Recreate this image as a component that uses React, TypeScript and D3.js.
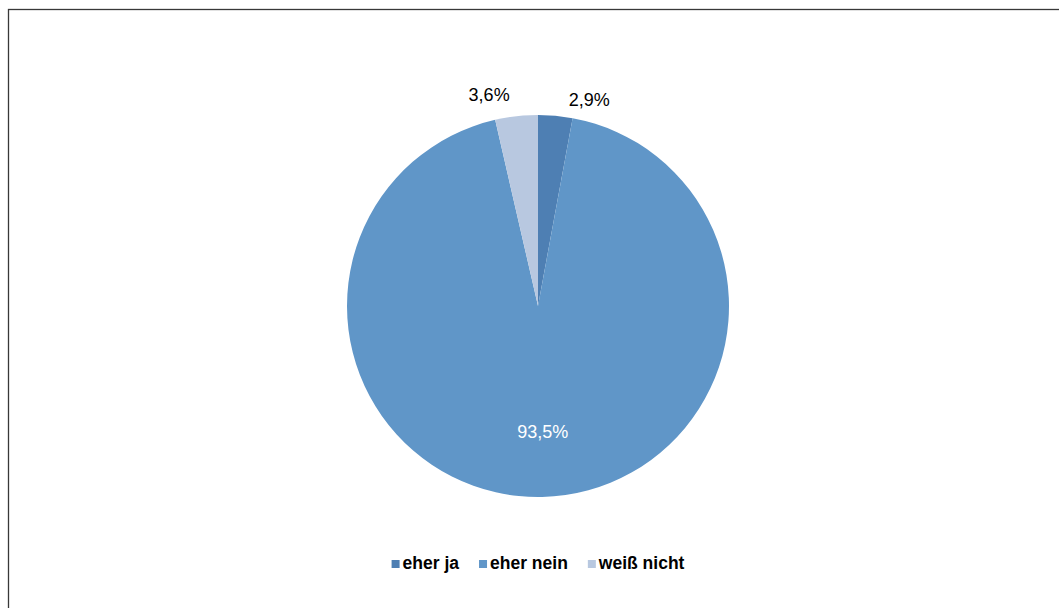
import React, { useEffect, useRef } from "react";
import * as d3 from "d3";

const categories = ["eher ja", "eher nein", "weiß nicht"];
const values = [2.9, 93.5, 3.6];
const labels = ["2,9%", "93,5%", "3,6%"];
const colors = ["#4E7FB3", "#6096C8", "#B8C8E0"];

const W = 1059;
const H = 608;
const CX = 538;
const CY = 306;
const R = 191;

export default function App() {
  const legendRef = useRef<SVGGElement | null>(null);

  const pie = d3.pie<number>().sort(null).value((d) => d);
  const arcs = pie(values);
  const arc = d3.arc<d3.PieArcDatum<number>>().innerRadius(0).outerRadius(R);
  const innerLabelArc = d3.arc<d3.PieArcDatum<number>>().innerRadius(R * 0.66).outerRadius(R * 0.66);
  const outerArc = d3.arc<d3.PieArcDatum<number>>().innerRadius(R + 16).outerRadius(R + 16);

  useEffect(() => {
    const g = d3.select(legendRef.current);
    g.selectAll("*").remove();
    const items = g
      .selectAll("g.item")
      .data(categories)
      .join("g")
      .attr("class", "item");
    items
      .append("rect")
      .attr("width", 8)
      .attr("height", 8)
      .attr("y", -9)
      .attr("fill", (_d, i) => colors[i]);
    items
      .append("text")
      .attr("x", 11)
      .attr("font-family", "Liberation Sans, Arial, sans-serif")
      .attr("font-weight", "bold")
      .attr("font-size", 17.5)
      .attr("fill", "#000")
      .text((d) => d);
    let x = 0;
    const gap = 20;
    items.each(function () {
      const t = d3.select(this).select("text").node() as SVGTextElement;
      const w = 11 + t.getComputedTextLength();
      d3.select(this).attr("transform", `translate(${x},0)`);
      x += w + gap;
    });
    const total = x - gap;
    g.attr("transform", `translate(${CX - total / 2},569)`);
  }, []);

  return (
    <svg
      width={W}
      height={H}
      style={{ position: "absolute", left: 0, top: 0, background: "#fff" }}
    >
      <rect x={8.5} y={9.5} width={W} height={H} fill="#fff" stroke="#383838" strokeWidth={1.3} />
      <g transform={`translate(${CX},${CY})`}>
        {arcs.map((a, i) => (
          <path key={categories[i]} d={arc(a) || ""} fill={colors[i]} />
        ))}
        {arcs.map((a, i) => {
          const big = a.endAngle - a.startAngle > Math.PI;
          if (big) {
            const [x, y] = innerLabelArc.centroid(a);
            return (
              <text
                key={"l" + i}
                x={x + 2}
                y={y}
                fill="#fff"
                fontFamily="Liberation Sans, Arial, sans-serif"
                fontSize={18}
                textAnchor="middle"
                dominantBaseline="central"
              >
                {labels[i]}
              </text>
            );
          }
          const [x, y] = outerArc.centroid(a);
          const mid = (a.startAngle + a.endAngle) / 2;
          const right = mid < Math.PI;
          return (
            <text
              key={"l" + i}
              x={right ? x + 12 : x - 5}
              y={right ? y : y - 5}
              fill="#000"
              fontFamily="Liberation Sans, Arial, sans-serif"
              fontSize={18}
              textAnchor={right ? "start" : "end"}
              dominantBaseline="central"
            >
              {labels[i]}
            </text>
          );
        })}
      </g>
      <g ref={legendRef} />
    </svg>
  );
}
